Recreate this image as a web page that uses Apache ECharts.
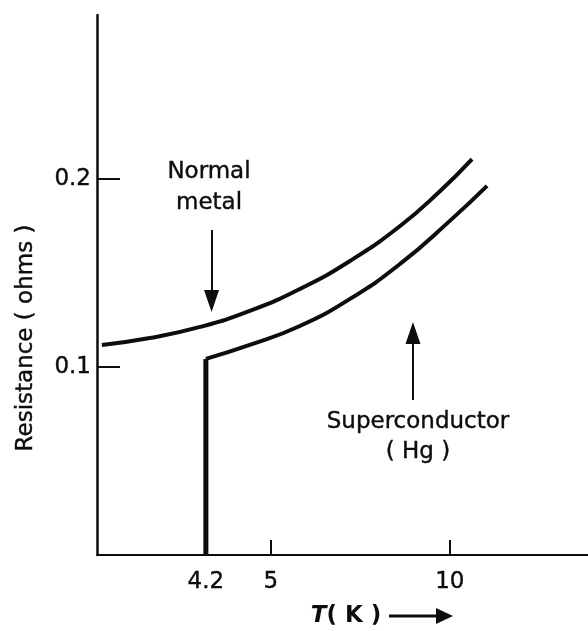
<!DOCTYPE html>
<html>
<head>
<meta charset="utf-8">
<script src="https://cdn.jsdelivr.net/npm/echarts@6/dist/echarts.min.js"></script>
<style>
  html, body { margin: 0; padding: 0; background: #ffffff; }
  #chart { width: 588px; height: 631px; }
</style>
</head>
<body>
<div id="chart"></div>
<script>
// Resistance (ohms) against temperature (K)
const normalMetalT = [2.92, 3.51, 4.13, 4.74, 5.81, 7.21, 8.61, 9.73, 10.62];
const normalMetalR = [0.1117, 0.1154, 0.1213, 0.1298, 0.1415, 0.1564, 0.1750, 0.1936, 0.2106];
const superT = [4.2, 4.2, 4.74, 5.81, 7.21, 8.61, 10.0, 11.04];
const superR = [0, 0.1043, 0.1117, 0.1218, 0.1362, 0.1548, 0.1777, 0.1963];
const tempTickLabels = [4.2, 5, 10];
const tempTickMarks = [5, 10];
const resistanceTicks = [0.1, 0.2];
const tempRange = [2.86, 13.86];
const resistanceMax = 0.2872;

// Annotation arrows: [T, R from, R to]
const normalArrow = [4.27, 0.1729, 0.1351];
const superArrow = [8.97, 0.0824, 0.1181];

// Schematic temperature axis: the part below 5 K is drawn stretched
const STRETCH_FROM = 5;
const STRETCH = 2.27;
function axisPos(t) {
  return t >= STRETCH_FROM ? t : STRETCH_FROM - (STRETCH_FROM - t) * STRETCH;
}
function tempFromPos(p) {
  return p >= STRETCH_FROM ? p : STRETCH_FROM - (STRETCH_FROM - p) / STRETCH;
}

const INK = '#0d0d0d';
const FONT = 'DejaVu Sans';
const TEXT_FONT = '23px "DejaVu Sans"';

const normalData = normalMetalT.map((t, i) => [axisPos(t), normalMetalR[i]]);
const superData = superT.map((t, i) => [axisPos(t), superR[i]]);

function arrowLine(a) {
  return [
    { coord: [axisPos(a[0]), a[1]], symbol: 'none' },
    { coord: [axisPos(a[0]), a[2]], symbol: 'triangle', symbolSize: [15, 22] }
  ];
}

function note(text, x, y) {
  return {
    type: 'text', x: x, y: y,
    style: {
      text: text, fill: INK, font: TEXT_FONT,
      align: 'center', verticalAlign: 'middle',
      stroke: INK, lineWidth: 0.4
    }
  };
}

const chart = echarts.init(document.getElementById('chart'), null, { renderer: 'canvas' });

chart.setOption({
  animation: false,
  backgroundColor: '#ffffff',
  grid: { left: 97, right: 0, top: 15, bottom: 76, containLabel: false },
  xAxis: {
    type: 'value',
    min: axisPos(tempRange[0]),
    max: tempRange[1],
    axisLine: { show: true, lineStyle: { color: INK, width: 2 } },
    axisTick: {
      show: true, inside: true, length: 15,
      customValues: tempTickMarks.map(axisPos),
      lineStyle: { color: INK, width: 2 }
    },
    axisLabel: {
      show: true, margin: 16,
      customValues: tempTickLabels.map(axisPos),
      formatter: v => String(Math.round(tempFromPos(v) * 10) / 10),
      color: INK, fontFamily: FONT, fontSize: 23,
      textBorderColor: INK, textBorderWidth: 0.4
    },
    splitLine: { show: false }
  },
  yAxis: {
    type: 'value',
    min: 0,
    max: resistanceMax,
    axisLine: { show: true, lineStyle: { color: INK, width: 2.5 } },
    axisTick: {
      show: true, inside: true, length: 23,
      customValues: resistanceTicks,
      lineStyle: { color: INK, width: 2 }
    },
    axisLabel: {
      show: true, margin: 6,
      customValues: resistanceTicks,
      formatter: v => v.toFixed(1),
      color: INK, fontFamily: FONT, fontSize: 23,
      textBorderColor: INK, textBorderWidth: 0.4
    },
    splitLine: { show: false }
  },
  series: [
    {
      name: 'Normal metal',
      type: 'line',
      data: normalData,
      smooth: 0.5,
      showSymbol: false,
      symbol: 'none',
      lineStyle: { color: INK, width: 4 },
      markLine: {
        silent: true,
        label: { show: false },
        lineStyle: { color: INK, width: 2, type: 'solid' },
        itemStyle: { color: INK },
        data: [arrowLine(normalArrow)]
      }
    },
    {
      name: 'Superconductor drop',
      type: 'line',
      data: superData.slice(0, 2),
      showSymbol: false,
      symbol: 'none',
      lineStyle: { color: INK, width: 5 }
    },
    {
      name: 'Superconductor',
      type: 'line',
      data: superData.slice(1),
      smooth: 0.5,
      showSymbol: false,
      symbol: 'none',
      lineStyle: { color: INK, width: 4 },
      markLine: {
        silent: true,
        label: { show: false },
        lineStyle: { color: INK, width: 2, type: 'solid' },
        itemStyle: { color: INK },
        data: [arrowLine(superArrow)]
      }
    }
  ],
  graphic: [
    {
      type: 'text', x: 26, y: 338, rotation: Math.PI / 2,
      style: {
        text: 'Resistance ( ohms )', fill: INK, font: TEXT_FONT,
        align: 'center', verticalAlign: 'middle',
        stroke: INK, lineWidth: 0.4
      }
    },
    note('Normal', 209, 172),
    note('metal', 209, 203),
    note('Superconductor', 418, 422),
    note('( Hg )', 418, 452),
    {
      type: 'text', x: 346, y: 616,
      style: {
        text: '{t|T}{k|( K )}',
        align: 'center', verticalAlign: 'middle',
        rich: {
          t: { fill: INK, fontFamily: FONT, fontSize: 23, fontStyle: 'italic', fontWeight: 'bold' },
          k: { fill: INK, fontFamily: FONT, fontSize: 23, fontWeight: 'bold' }
        }
      }
    },
    {
      type: 'line',
      shape: { x1: 389, y1: 616, x2: 440, y2: 616 },
      style: { stroke: INK, lineWidth: 3 }
    },
    {
      type: 'polygon',
      shape: { points: [[436, 608], [453, 616], [436, 624]] },
      style: { fill: INK }
    }
  ]
});
</script>
</body>
</html>
